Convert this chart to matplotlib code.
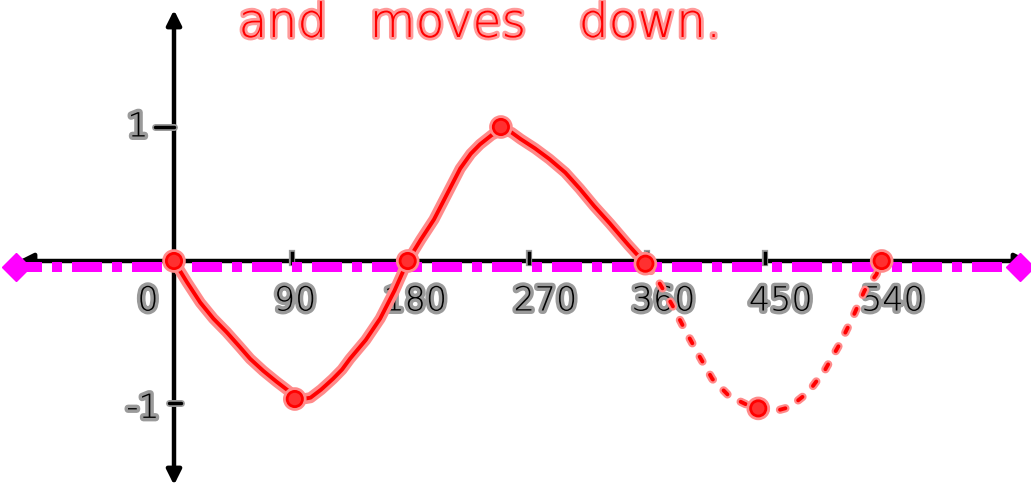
import matplotlib
matplotlib.use("Agg")
import matplotlib.pyplot as plt
import matplotlib.patheffects as pe

plt.rcParams["lines.scale_dashes"] = False

# ---- data ----
x_ticks = [0, 90, 180, 270, 360, 450, 540]
x_tick_labels = ["0", "90", "180", "270", "360", "450", "540"]
y_ticks = [1, -1]
y_tick_labels = ["1", "-1"]

solid_x = [0, 10, 20, 30, 40, 50, 58, 68, 78, 86, 91, 98, 104, 112, 121, 128, 134, 146, 157, 168, 178,
           188, 198, 208, 218, 226, 233, 242, 250, 257, 264, 275, 286, 298, 309, 320, 332, 346, 359]
solid_y = [0, -0.16, -0.31, -0.43, -0.53, -0.64, -0.73, -0.82, -0.90, -0.96, -1.0, -1.03, -1.02, -0.96, -0.88,
           -0.81, -0.73, -0.59, -0.43, -0.22, 0.0,
           0.16, 0.31, 0.50, 0.69, 0.80, 0.87, 0.94, 0.98, 0.96, 0.91, 0.84, 0.76, 0.66, 0.54, 0.41, 0.28, 0.12, -0.02]

dotted_x = [361, 370, 379, 389, 399, 410, 423, 440, 454, 469, 483, 496, 507, 517, 526, 535, 539]
dotted_y = [-0.04, -0.17, -0.32, -0.51, -0.69, -0.88, -1.01, -1.09, -1.13, -1.09, -0.98, -0.81, -0.62, -0.42,
            -0.22, -0.10, 0.0]

key_x = [0, 92, 178, 249, 359, 445, 539]
key_y = [0, -1.03, 0, 1.0, -0.02, -1.1, 0.0]

shift_y = -0.045          # the dash-dot (shifted) midline
title_words = ["and", "moves", "down."]

# ---- figure ----
W, H, DPI = 1031, 487, 100
fig = plt.figure(figsize=(W / DPI, H / DPI), dpi=DPI)
ax = fig.add_axes([0, 0, 1, 1])
ax.set_axis_off()
pxdeg = 709 / 540.0
pxunit = 134.0
x0px, y0px = 174, 261
ax.set_xlim(-x0px / pxdeg, (W - x0px) / pxdeg)
ax.set_ylim(-(H - y0px) / pxunit, y0px / pxunit)

def dx(px):
    return px / pxdeg

def dy(px):
    return px / pxunit

# axes with arrows
ax.annotate("", xy=(dx(18 - x0px), 0), xytext=(dx(1030 - x0px), 0),
            arrowprops=dict(arrowstyle="<|-|>", lw=3.2, color="black", mutation_scale=22,
                            shrinkA=0, shrinkB=0), zorder=2)
ax.annotate("", xy=(0, dy(y0px - 10)), xytext=(0, -dy(485 - y0px)),
            arrowprops=dict(arrowstyle="<|-|>", lw=3.2, color="black", mutation_scale=22,
                            shrinkA=0, shrinkB=0), zorder=2)

halo_k = [pe.Stroke(linewidth=5, foreground="#9a9a9a"), pe.Normal()]

# tick marks
for t in x_ticks[1:]:
    ax.plot([t, t], [dy(-2), dy(8)], color="black", lw=2.5, zorder=2,
            path_effects=[pe.Stroke(linewidth=4.5, foreground="#9a9a9a"), pe.Normal()])
ax.plot([-dx(19), 0], [1, 1], color="black", lw=2.5, solid_capstyle="round",
        path_effects=halo_k, zorder=2)
ax.plot([-dx(5), dx(7)], [-1.06, -1.06], color="black", lw=2.5, solid_capstyle="round",
        path_effects=halo_k, zorder=2)

# tick labels
xlab_off = [-26, 3, 5, 17, 17, 16, 10]
ylab_pos = [(-dx(36), 1.0), (-dx(31), -1.1)]
for t, lab, o in zip(x_ticks, x_tick_labels, xlab_off):
    ax.text(t + dx(o), -dy(40), lab, ha="center", va="center", fontsize=24,
            family="DejaVu Sans", fontweight="light", color="black", path_effects=halo_k, zorder=3)
for (xx, yy), lab in zip(ylab_pos, y_tick_labels):
    ax.text(xx, yy, lab, ha="center", va="center", fontsize=24,
            family="DejaVu Sans", fontweight="light", color="black", path_effects=halo_k, zorder=3)

# magenta dash-dot line with diamond ends
mag = "#ff00ff"
ln, = ax.plot([dx(12 - x0px), dx(1024 - x0px)], [shift_y, shift_y], color=mag, lw=7.2, zorder=3)
ln.set_dashes([21.6, 7.2, 7.2, 7.2])
ln.set_dash_capstyle("butt")
ax.plot([dx(16 - x0px)], [shift_y], marker="D", ms=14, color=mag, mec=mag, zorder=3)
ax.plot([dx(1020 - x0px)], [shift_y], marker="D", ms=14, color=mag, mec=mag, zorder=3)

# red curves
red = "#ff0000"
pink = "#ff8a8a"
halo_r = [pe.Stroke(linewidth=8, foreground=pink), pe.Normal()]
ax.plot(solid_x, solid_y, color=red, lw=2.8, solid_joinstyle="round", solid_capstyle="round",
        path_effects=halo_r, zorder=4)
for lw_, col, z in [(6.0, pink, 4), (2.8, red, 4.1)]:
    dl, = ax.plot(dotted_x, dotted_y, color=col, lw=lw_, zorder=z)
    dl.set_dashes([4.0, 11.0])
    dl.set_dash_capstyle("round")
ax.plot(key_x, key_y, ls="none", marker="o", ms=11, mfc="#ff3030", mec=red, mew=2,
        path_effects=[pe.Stroke(linewidth=6, foreground=pink), pe.Normal()], zorder=5)

# title words
word_x = [283, 448, 650]
for w, xp in zip(title_words, word_x):
    fig.text(xp / W, 1 - 24 / H, w, ha="center", va="center", fontsize=34, color=red,
             family="DejaVu Sans", fontweight="light",
             path_effects=[pe.Stroke(linewidth=4, foreground="#ff9a9a"), pe.Normal()])

fig.savefig("out.png", dpi=DPI)
